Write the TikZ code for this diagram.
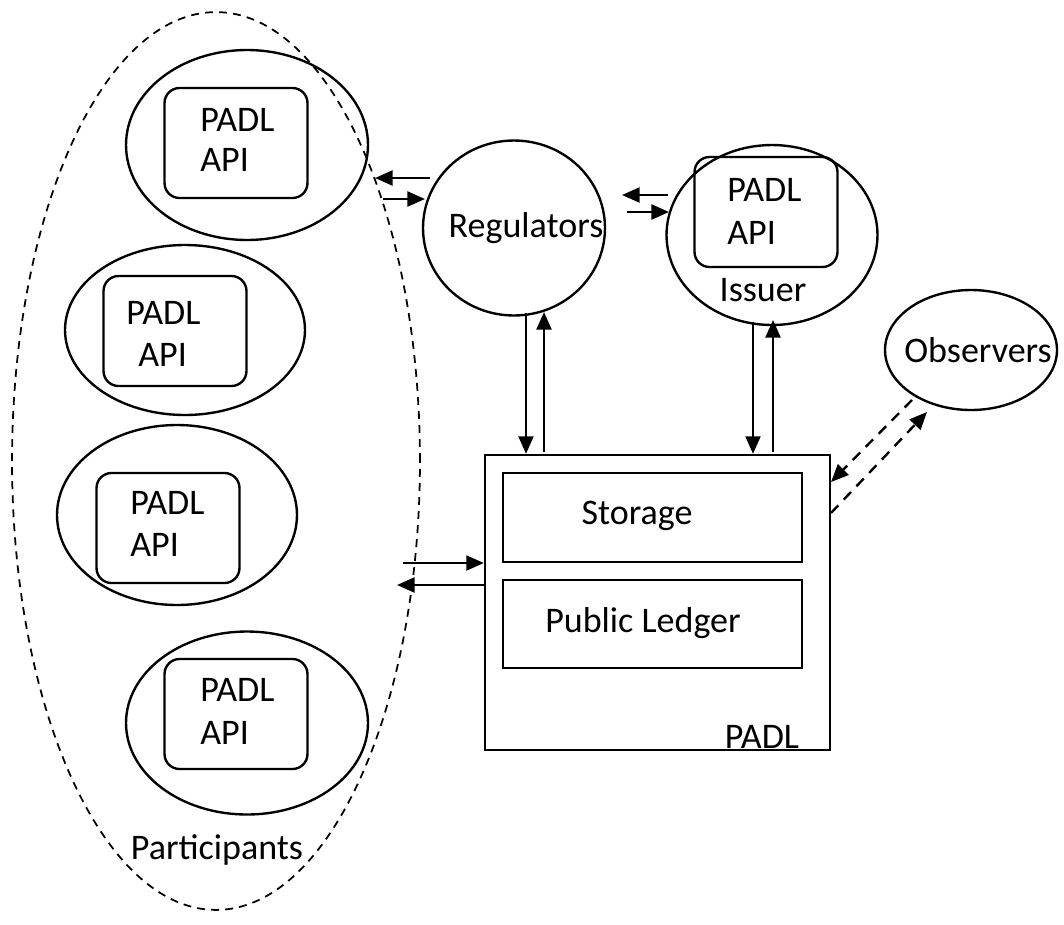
\documentclass[tikz,border=0pt]{standalone}
\usepackage{fontspec}
\setmainfont{Carlito}
\usetikzlibrary{shapes.geometric,arrows.meta}
\begin{document}
\begin{tikzpicture}[x=0.02cm,y=-0.02cm,
  every node/.style={font=\fontsize{20.5}{24}\selectfont},
  shp/.style={draw,line width=1.35pt,inner sep=0pt},
  oval/.style={shp,ellipse},
  apibox/.style={shp,rectangle,rounded corners=0.3cm,minimum width=2.86cm,minimum height=2.2cm},
  lbl/.style={inner sep=0pt},
  arr/.style={line width=1.35pt,-{Triangle[length=10pt,width=8.5pt]}},
  darr/.style={arr,dash pattern=on 6pt off 4.5pt}]
\useasboundingbox (0,0) rectangle (1064,924);
% participants group
\node[draw,dashed,line width=1pt,dash pattern=on 4.5pt off 3.5pt,ellipse,inner sep=0pt,minimum width=8.16cm,minimum height=17.96cm] (grp) at (216,461) {};
\node[lbl] (ptxt) at (217,850) {Participants};
% participant 1
\node[oval,minimum width=4.84cm,minimum height=3.8cm] (p1) at (247,145) {};
\node[apibox] (a1) at (236,143) {};
\node[lbl,anchor=west] (a1t1) at (200,120) {PADL};
\node[lbl,anchor=west] (a1t2) at (200,160) {API};
% participant 2
\node[oval,minimum width=4.8cm,minimum height=3.4cm] (p2) at (185,330) {};
\node[apibox] (a2) at (175,331) {};
\node[lbl,anchor=west] (a2t1) at (126,313) {PADL};
\node[lbl,anchor=west] (a2t2) at (138,355) {API};
% participant 3
\node[oval,minimum width=4.8cm,minimum height=3.6cm] (p3) at (177,515) {};
\node[apibox] (a3) at (168,528) {};
\node[lbl,anchor=west] (a3t1) at (130,503) {PADL};
\node[lbl,anchor=west] (a3t2) at (130,545) {API};
% participant 4
\node[oval,minimum width=4.84cm,minimum height=3.66cm] (p4) at (247,723) {};
\node[apibox] (a4) at (236,714) {};
\node[lbl,anchor=west] (a4t1) at (200,690) {PADL};
\node[lbl,anchor=west] (a4t2) at (200,733) {API};
% regulators
\node[oval,minimum width=3.64cm,minimum height=3.5cm] (reg) at (514,228) {};
\node[lbl] (regt) at (526,228) {Regulators};
% issuer
\node[oval,minimum width=4.22cm,minimum height=3.6cm] (iss) at (772,235) {};
\node[apibox] (ia) at (766,212) {};
\node[lbl,anchor=west] (iat1) at (727,190) {PADL};
\node[lbl,anchor=west] (iat2) at (727,233) {API};
\node[lbl] (isst) at (763,290) {Issuer};
% observers
\node[oval,minimum width=3.44cm,minimum height=2.4cm] (obs) at (971,350) {};
\node[lbl] (obst) at (978,350) {Observers};
% PADL box
\node[shp,rectangle,minimum width=6.9cm,minimum height=5.9cm] (pad) at (657.5,602.5) {};
\node[shp,rectangle,minimum width=5.98cm,minimum height=1.78cm] (sto) at (652.5,517.5) {};
\node[lbl] (stot) at (637,516) {Storage};
\node[shp,rectangle,minimum width=5.98cm,minimum height=1.76cm] (led) at (652.5,624) {};
\node[lbl] (ledt) at (643,623) {Public Ledger};
\node[lbl] (padt) at (762,737) {PADL};
% arrows regulators <-> participants
\draw[arr] (430,178) -- (375,178);
\draw[arr] (383,199) -- (425,199);
% regulators <-> issuer
\draw[arr] (668,195) -- (622,195);
\draw[arr] (627,212) -- (669,212);
% regulators <-> PADL
\draw[arr] (526,313) -- (pad.north -| 526,0);
\draw[arr] (544,452) -- (544,312);
% issuer <-> PADL
\draw[arr] (753,322) -- (pad.north -| 753,0);
\draw[arr] (773,452) -- (773,320);
% PADL <-> participants
\draw[arr] (403,563) -- (pad.west |- 0,563);
\draw[arr] (pad.west |- 0,585) -- (397,585);
% observers <-> PADL
\draw[darr] (912,400) -- (831,482);
\draw[darr] (831,513) -- (927,412);
\end{tikzpicture}
\end{document}
